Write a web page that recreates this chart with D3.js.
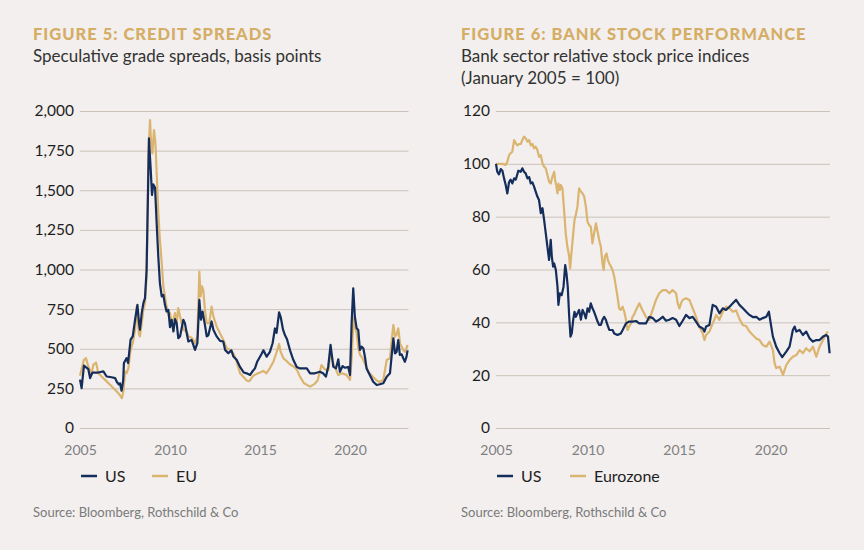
<!DOCTYPE html>
<html>
<head>
<meta charset="utf-8">
<script src="https://cdn.jsdelivr.net/npm/d3@7"></script>
<style>
  body { margin: 0; background: #f2efee; }
  svg { display: block; font-family: Lato, sans-serif; }
</style>
</head>
<body>
<svg id="chart" width="864" height="550"></svg>
<script>
// tick labels
const yearTicks = [2005, 2010, 2015, 2020];
const spreadTicks = [0, 250, 500, 750, 1000, 1250, 1500, 1750, 2000];
const stockTicks = [0, 20, 40, 60, 80, 100, 120];

// figure 5: speculative grade spreads, bp  [year, value]
const usSpreads = [
  [2005.00, 305], [2005.09, 252], [2005.22, 393], [2005.46, 372], [2005.56, 315], [2005.69, 350],
  [2006.02, 350], [2006.30, 357], [2006.48, 325], [2006.76, 320], [2006.95, 315], [2007.05, 290],
  [2007.15, 275], [2007.22, 282], [2007.31, 235], [2007.40, 300], [2007.44, 410], [2007.59, 441],
  [2007.67, 410], [2007.81, 557], [2007.93, 578], [2008.06, 683], [2008.19, 777], [2008.28, 662],
  [2008.33, 620], [2008.43, 725], [2008.52, 788], [2008.61, 819], [2008.70, 998], [2008.78, 1500],
  [2008.83, 1827], [2008.93, 1628], [2009.00, 1470], [2009.07, 1537], [2009.17, 1516], [2009.26, 1290],
  [2009.35, 1080], [2009.44, 913], [2009.54, 830], [2009.63, 840], [2009.72, 777], [2009.81, 735],
  [2009.91, 745], [2010.00, 636], [2010.09, 683], [2010.19, 609], [2010.28, 687], [2010.37, 661],
  [2010.46, 567], [2010.56, 578], [2010.74, 683], [2010.83, 660], [2010.93, 598], [2011.02, 546],
  [2011.20, 556], [2011.39, 493], [2011.52, 535], [2011.63, 808], [2011.72, 683], [2011.81, 735],
  [2011.94, 651], [2012.04, 578], [2012.13, 585], [2012.31, 672], [2012.41, 620], [2012.59, 578],
  [2012.78, 550], [2012.96, 546], [2013.06, 493], [2013.24, 472], [2013.41, 490], [2013.52, 451],
  [2013.70, 430], [2013.89, 385], [2014.10, 350], [2014.26, 345], [2014.45, 335], [2014.60, 360],
  [2014.72, 376], [2014.85, 420], [2015.00, 450], [2015.10, 470], [2015.19, 490], [2015.37, 450],
  [2015.55, 480], [2015.70, 535], [2015.83, 628], [2015.92, 600], [2016.06, 730], [2016.15, 700],
  [2016.28, 620], [2016.39, 585], [2016.50, 560], [2016.67, 490], [2016.85, 430], [2017.04, 385],
  [2017.22, 376], [2017.60, 376], [2017.78, 345], [2018.05, 345], [2018.33, 355], [2018.50, 345],
  [2018.66, 324], [2018.79, 387], [2018.92, 524], [2019.07, 387], [2019.22, 376], [2019.35, 433],
  [2019.44, 355], [2019.59, 391], [2019.72, 380], [2019.90, 385], [2020.00, 334], [2020.09, 660],
  [2020.18, 881], [2020.27, 702], [2020.37, 629], [2020.46, 618], [2020.55, 492], [2020.64, 513],
  [2020.74, 503], [2020.83, 450], [2020.92, 376], [2021.10, 334], [2021.29, 292], [2021.48, 271],
  [2021.66, 276], [2021.85, 282], [2022.04, 324], [2022.22, 345], [2022.31, 450], [2022.41, 566],
  [2022.50, 471], [2022.59, 480], [2022.68, 555], [2022.77, 461], [2022.87, 465], [2022.96, 440],
  [2023.05, 418], [2023.14, 450], [2023.20, 490],
];
const euSpreads = [
  [2005.00, 330], [2005.22, 430], [2005.33, 441], [2005.46, 388], [2005.65, 346], [2005.74, 399],
  [2005.89, 413], [2006.02, 346], [2006.20, 325], [2006.48, 294], [2006.67, 273], [2006.85, 252],
  [2007.04, 231], [2007.13, 220], [2007.26, 200], [2007.33, 189], [2007.41, 231], [2007.50, 357],
  [2007.59, 346], [2007.69, 378], [2007.81, 493], [2007.93, 535], [2008.06, 620], [2008.15, 766],
  [2008.28, 588], [2008.33, 578], [2008.43, 662], [2008.52, 745], [2008.61, 788], [2008.70, 956],
  [2008.80, 1711], [2008.89, 1943], [2008.94, 1817], [2009.02, 1733], [2009.11, 1880], [2009.19, 1796],
  [2009.26, 1607], [2009.35, 1355], [2009.44, 1187], [2009.54, 1040], [2009.63, 893], [2009.72, 830],
  [2009.81, 766], [2009.91, 714], [2010.00, 725], [2010.09, 662], [2010.19, 683], [2010.28, 725],
  [2010.37, 662], [2010.46, 756], [2010.56, 704], [2010.74, 620], [2010.93, 609], [2011.02, 578],
  [2011.20, 570], [2011.39, 535], [2011.52, 578], [2011.63, 987], [2011.70, 830], [2011.78, 893],
  [2011.85, 872], [2011.94, 745], [2012.04, 662], [2012.18, 662], [2012.31, 766], [2012.41, 704],
  [2012.59, 641], [2012.78, 598], [2012.96, 556], [2013.15, 504], [2013.33, 493], [2013.52, 472],
  [2013.70, 420], [2013.89, 346], [2014.10, 320], [2014.26, 300], [2014.40, 295], [2014.63, 330],
  [2014.80, 340], [2015.00, 350], [2015.19, 360], [2015.35, 345], [2015.56, 380], [2015.75, 420],
  [2015.90, 470], [2016.06, 530], [2016.15, 480], [2016.30, 440], [2016.50, 420], [2016.67, 400],
  [2016.85, 390], [2017.04, 370], [2017.22, 324], [2017.45, 282], [2017.78, 261], [2018.00, 275],
  [2018.20, 300], [2018.42, 397], [2018.60, 370], [2018.80, 365], [2018.92, 482], [2019.07, 408],
  [2019.35, 334], [2019.55, 345], [2019.80, 335], [2020.00, 303], [2020.10, 450], [2020.19, 690],
  [2020.27, 640], [2020.37, 597], [2020.47, 500], [2020.56, 461], [2020.70, 440], [2020.85, 400],
  [2021.05, 350], [2021.30, 320], [2021.48, 300], [2021.65, 290], [2021.85, 303], [2022.04, 429],
  [2022.22, 440], [2022.32, 560], [2022.41, 650], [2022.50, 576], [2022.59, 590], [2022.68, 629],
  [2022.78, 534], [2022.96, 492], [2023.06, 480], [2023.20, 524],
];

// figure 6: bank sector relative stock price indices, Jan 2005 = 100
const usBanks = [
  [2005.00, 100], [2005.07, 97], [2005.16, 96], [2005.26, 98], [2005.35, 97.4], [2005.44, 94.5],
  [2005.53, 92], [2005.62, 88.8], [2005.71, 93], [2005.80, 94], [2005.89, 92.6], [2005.99, 94.5],
  [2006.08, 94], [2006.22, 97.4], [2006.35, 97], [2006.44, 98.3], [2006.53, 97], [2006.62, 96.4],
  [2006.72, 94.5], [2006.81, 95], [2006.90, 92.6], [2006.99, 93], [2007.08, 91.4], [2007.17, 89.5],
  [2007.26, 87.6], [2007.35, 86.3], [2007.45, 81.3], [2007.54, 83.2], [2007.63, 78.7], [2007.72, 73.7],
  [2007.81, 68.6], [2007.90, 63.6], [2007.99, 71.2], [2008.05, 64.9], [2008.12, 61.1], [2008.18, 62.3],
  [2008.27, 59.8], [2008.36, 53.5], [2008.41, 46.6], [2008.49, 51], [2008.59, 50.3], [2008.69, 53.5],
  [2008.78, 61.7], [2008.85, 58.5], [2008.92, 53.5], [2009.00, 42.1], [2009.07, 34.6], [2009.14, 35.8],
  [2009.22, 41], [2009.29, 44], [2009.36, 42.1], [2009.45, 43.4], [2009.54, 44.7], [2009.64, 41],
  [2009.73, 44.7], [2009.82, 43.4], [2009.91, 41.5], [2010.00, 45.3], [2010.09, 44], [2010.18, 47.2],
  [2010.27, 45.3], [2010.36, 44], [2010.46, 42.1], [2010.55, 40.3], [2010.64, 39], [2010.73, 39],
  [2010.82, 41], [2010.91, 42.1], [2011.00, 41], [2011.09, 39], [2011.19, 37.1], [2011.37, 37.1],
  [2011.46, 35.8], [2011.64, 35.2], [2011.82, 35.8], [2011.92, 37.1], [2012.10, 39.6], [2012.28, 40.3],
  [2012.46, 40.3], [2012.65, 40.5], [2012.83, 39.6], [2013.19, 39.6], [2013.38, 42.1], [2013.56, 41.6],
  [2013.74, 40.3], [2013.92, 41], [2014.11, 42.1], [2014.29, 40.6], [2014.47, 41], [2014.65, 41.6],
  [2014.84, 41], [2015.02, 38.6], [2015.20, 40.6], [2015.38, 42.8], [2015.57, 41.6], [2015.75, 42.1],
  [2015.93, 40.3], [2016.11, 38.4], [2016.30, 37.7], [2016.39, 36.5], [2016.48, 38.4], [2016.66, 39],
  [2016.75, 42.8], [2016.84, 46.6], [2017.03, 45.9], [2017.21, 43.4], [2017.39, 45.3], [2017.57, 44.7],
  [2017.76, 45.9], [2017.94, 47.2], [2018.12, 48.5], [2018.30, 46.6], [2018.49, 45.3], [2018.67, 44],
  [2018.85, 42.8], [2019.03, 42], [2019.22, 42.1], [2019.40, 41], [2019.58, 41.6], [2019.77, 42.1],
  [2019.91, 44], [2020.04, 38.4], [2020.13, 34.6], [2020.31, 30.8], [2020.50, 28.3], [2020.64, 26.8],
  [2020.86, 28.9], [2021.04, 30.8], [2021.22, 37.1], [2021.32, 38.4], [2021.41, 36.5], [2021.59, 37.1],
  [2021.77, 35.2], [2021.95, 36.5], [2022.14, 33.9], [2022.32, 32.7], [2022.50, 33.3], [2022.68, 33.3],
  [2022.87, 34.6], [2023.05, 35.2], [2023.14, 34.6], [2023.23, 28.3],
];
const euroBanks = [
  [2005.00, 100], [2005.16, 100], [2005.35, 100], [2005.53, 99.6], [2005.62, 100.8], [2005.71, 103.3],
  [2005.80, 104], [2005.89, 104.6], [2005.99, 109], [2006.08, 107.8], [2006.17, 107], [2006.26, 107.5],
  [2006.35, 107.5], [2006.44, 109], [2006.53, 110.3], [2006.62, 109.7], [2006.72, 108.4], [2006.81, 109],
  [2006.90, 107], [2006.99, 107.5], [2007.08, 105.9], [2007.17, 106.5], [2007.26, 105.2], [2007.35, 102.7],
  [2007.45, 103.3], [2007.54, 100.2], [2007.63, 98.9], [2007.72, 98.3], [2007.81, 95.8], [2007.90, 93.2],
  [2007.99, 92.6], [2008.08, 95.1], [2008.18, 97], [2008.23, 93.9], [2008.30, 91.4], [2008.36, 88.8],
  [2008.41, 92.5], [2008.49, 90.1], [2008.54, 92], [2008.63, 90.7], [2008.72, 82.5], [2008.81, 73.7],
  [2008.90, 68.6], [2009.00, 64.9], [2009.05, 60.4], [2009.12, 66.1], [2009.22, 73.7], [2009.29, 78.7],
  [2009.36, 80.6], [2009.45, 83.8], [2009.54, 90.7], [2009.64, 89.5], [2009.73, 88.8], [2009.82, 87.6],
  [2009.91, 83.8], [2010.00, 78.1], [2010.09, 76.8], [2010.18, 76.2], [2010.27, 69.9], [2010.36, 73.7],
  [2010.46, 77.5], [2010.55, 74.3], [2010.64, 71.2], [2010.73, 68.6], [2010.82, 62.3], [2010.88, 59.8],
  [2010.95, 64.9], [2011.04, 66.1], [2011.11, 63.6], [2011.19, 62.3], [2011.28, 61.1], [2011.37, 59.8],
  [2011.46, 57.3], [2011.55, 53.5], [2011.64, 49.7], [2011.73, 45.3], [2011.82, 44.7], [2011.92, 45.9],
  [2012.01, 44], [2012.10, 41], [2012.19, 37.1], [2012.28, 38.4], [2012.37, 39.6], [2012.46, 42.1],
  [2012.55, 43], [2012.65, 44.7], [2012.74, 45.9], [2012.83, 47.2], [2013.01, 44.5], [2013.19, 42.1],
  [2013.38, 40.9], [2013.56, 44.7], [2013.74, 48.5], [2013.92, 51], [2014.11, 52.2], [2014.29, 52.2],
  [2014.47, 51], [2014.65, 52.2], [2014.84, 51], [2014.93, 47.2], [2015.02, 45.3], [2015.11, 47.2],
  [2015.20, 48.5], [2015.38, 49.1], [2015.57, 48.5], [2015.75, 45.3], [2015.93, 42.1], [2016.11, 38.2],
  [2016.30, 35.8], [2016.39, 33.3], [2016.48, 35.2], [2016.66, 36.5], [2016.84, 39.6], [2016.93, 41],
  [2017.03, 42.8], [2017.21, 40.9], [2017.39, 44], [2017.57, 45.9], [2017.76, 45.3], [2017.94, 44],
  [2018.12, 44.5], [2018.30, 41.3], [2018.49, 38.9], [2018.67, 38.6], [2018.85, 36.5], [2019.03, 35.2],
  [2019.22, 33.9], [2019.40, 33.3], [2019.58, 31.4], [2019.77, 30.8], [2019.95, 32.7], [2020.13, 29.5],
  [2020.22, 24.6], [2020.31, 22.7], [2020.50, 23.2], [2020.68, 20.1], [2020.86, 23.8], [2021.04, 25.7],
  [2021.22, 27], [2021.41, 27.6], [2021.59, 29.5], [2021.77, 28.3], [2021.95, 30.2], [2022.14, 29],
  [2022.32, 30.8], [2022.50, 27], [2022.68, 30.8], [2022.87, 33.3], [2023.05, 35.8], [2023.14, 36.5],
];

const NAVY = '#142d5b';
const GOLD = '#dbb470';

const svg = d3.select('#chart');

function drawPanel(p) {
  const g = svg.append('g');

  g.append('text')
    .attr('x', p.textX)
    .attr('y', 40)
    .style('font-size', '16.5px')
    .style('font-weight', 900)
    .style('letter-spacing', '1px')
    .style('fill', '#d5ad65')
    .text(p.title);

  p.subtitle.forEach((line, i) => {
    g.append('text')
      .attr('x', p.textX)
      .attr('y', 62 + i * 22)
      .style('font-size', '17px')
      .style('fill', '#333')
      .text(line);
  });

  const x = d3.scaleLinear()
    .domain([2005, 2023.25])
    .range([p.left, p.right]);
  const y = d3.scaleLinear()
    .domain(p.domain)
    .range([428, 111]);

  const yAxis = g.append('g')
    .attr('transform', `translate(${p.left},0)`)
    .call(d3.axisLeft(y)
      .tickValues(p.ticks)
      .tickFormat(d3.format(','))
      .tickSize(-(p.right - p.left))
      .tickPadding(6));
  yAxis.select('.domain').remove();
  yAxis.selectAll('line').attr('stroke', '#cbc3bb');
  yAxis.selectAll('text')
    .style('font-family', 'Lato, sans-serif')
    .style('font-size', '15.5px')
    .style('fill', '#1e1e1e');

  const xAxis = g.append('g')
    .attr('transform', 'translate(0,428)')
    .call(d3.axisBottom(x)
      .tickValues(yearTicks)
      .tickFormat(d3.format('d'))
      .tickSize(0)
      .tickPadding(17));
  xAxis.select('.domain').remove();
  xAxis.selectAll('text')
    .style('font-family', 'Lato, sans-serif')
    .style('font-size', '14px')
    .style('fill', '#808080');

  const line = d3.line()
    .x(d => x(d[0]))
    .y(d => y(d[1]));

  g.append('path')
    .datum(p.gold)
    .attr('d', line)
    .attr('fill', 'none')
    .attr('stroke', GOLD)
    .attr('stroke-width', 2.2)
    .attr('stroke-linejoin', 'round');

  g.append('path')
    .datum(p.navy)
    .attr('d', line)
    .attr('fill', 'none')
    .attr('stroke', NAVY)
    .attr('stroke-width', 2.2)
    .attr('stroke-linejoin', 'round');

  // legend
  const legend = [
    { name: 'US', color: NAVY, x: p.left + 1 },
    { name: p.goldName, color: GOLD, x: p.goldLegendX },
  ];
  legend.forEach((d) => {
    g.append('line')
      .attr('x1', d.x)
      .attr('x2', d.x + 16)
      .attr('y1', 476)
      .attr('y2', 476)
      .attr('stroke', d.color)
      .attr('stroke-width', 2.5);
    g.append('text')
      .attr('x', d.x + 24)
      .attr('y', 481.5)
      .style('font-size', '16px')
      .style('fill', '#1e1e1e')
      .text(d.name);
  });

  g.append('text')
    .attr('x', p.textX)
    .attr('y', 517)
    .style('font-size', '13px')
    .style('fill', '#7a7a7a')
    .text('Source: Bloomberg, Rothschild & Co');
}

drawPanel({
  title: 'FIGURE 5: CREDIT SPREADS',
  subtitle: ['Speculative grade spreads, basis points'],
  textX: 33,
  left: 80,
  right: 408.5,
  domain: [0, 2000],
  ticks: spreadTicks,
  navy: usSpreads,
  gold: euSpreads,
  goldName: 'EU',
  goldLegendX: 152,
});

drawPanel({
  title: 'FIGURE 6: BANK STOCK PERFORMANCE',
  subtitle: ['Bank sector relative stock price indices', '(January 2005 = 100)'],
  textX: 461,
  left: 496,
  right: 830,
  domain: [0, 120],
  ticks: stockTicks,
  navy: usBanks,
  gold: euroBanks,
  goldName: 'Eurozone',
  goldLegendX: 570,
});
</script>
</body>
</html>
